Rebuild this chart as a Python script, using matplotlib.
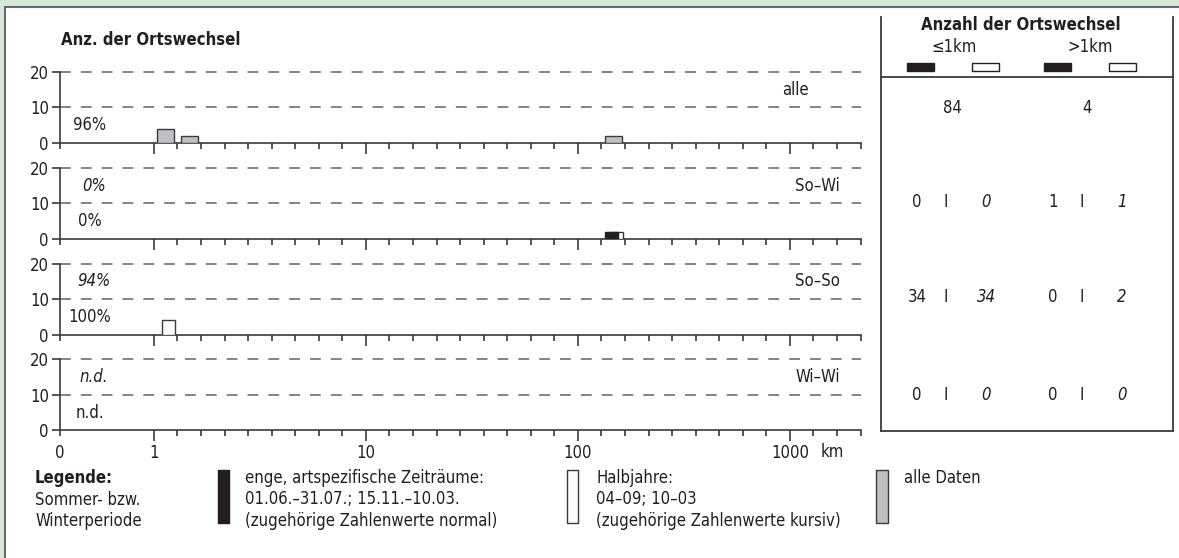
import numpy as np
import matplotlib
matplotlib.use("Agg")
import matplotlib.pyplot as plt
from matplotlib.patches import Rectangle

plt.rcParams['font.family'] = ['DejaVu Sans']
plt.rcParams['font.stretch'] = 'condensed'
plt.rcParams['font.size'] = 12

# ---- Daten ----
panel_names = ["alle", "So–Wi", "So–So", "Wi–Wi"]
pct_kursiv = [None, "0%", "94%", "n.d."]      # Halbjahre
pct_normal = ["96%", "0%", "100%", "n.d."]    # enge Zeiträume bzw. alle Daten

# Klassen über Untergrenze in km (1 -> 1-2 km, 200 -> 200-300 km)
alle_bins = [1, 2, 200]
alle_vals = [4, 2, 2]
enge_bins = [[], [200], [], []]
enge_vals = [[], [2], [], []]
halb_bins = [[], [200], [1], []]
halb_vals = [[], [2], [4], []]

# Tabelle "Anzahl der Ortswechsel"
tab_alle = [84, 4]
le1_enge = [0, 34, 0]
le1_halb = [0, 34, 0]
gt1_enge = [1, 0, 0]
gt1_halb = [1, 2, 0]

xmajor = [0, 1, 10, 100, 1000]
xmajor_labels = ["0", "1", "10", "100", "1000"]
xminor = [m * 10 ** k for k in range(3) for m in range(2, 10)] + [2000, 3000, 4000]

TXT = '#231f20'
AX = '#3a3a3a'
X0 = 0.443  # Abschnitt 0-1 km in Dekaden


def fwd(x):
    x = np.asarray(x, dtype=float)
    xs = np.maximum(x, 1.0)
    k = np.floor(np.log10(xs))
    d = 10.0 ** k
    return np.where(x < 1, (x - 1) * X0, k + (xs / d - 1) / 9)


def inv(p):
    p = np.asarray(p, dtype=float)
    ps = np.maximum(p, 0.0)
    k = np.floor(ps)
    return np.where(p < 0, 1 + p / X0, 10.0 ** k * (1 + 9 * (ps - k)))


def step(lo):
    return 10.0 ** np.floor(np.log10(np.asarray(lo, dtype=float)))


W, H = 1179, 558
fig = plt.figure(figsize=(W / 100, H / 100), dpi=100)
fig.patch.set_facecolor('#d5e8d6')

# Hintergrund / Rahmen, Tabelle, Legende in Pixelkoordinaten
bg = fig.add_axes([0, 0, 1, 1])
bg.set_xlim(0, W)
bg.set_ylim(H, 0)
bg.axis('off')
bg.add_patch(Rectangle((5, 7), 1300, 700, fc='white', ec='#6a6a6a', lw=1.5))

bg.text(61, 40, "Anz. der Ortswechsel", fontweight='bold', color=TXT, va='center')

# Panels
px0, px_dec = 60, 212
ax_w = (fwd(4000) - fwd(0)) * px_dec
for i in range(4):
    top = 72 + i * 95.8
    ax = fig.add_axes([px0 / W, 1 - (top + 71) / H, ax_w / W, 71 / H])
    ax.set_facecolor('none')
    ax.set_xscale('function', functions=(fwd, inv))
    ax.set_xlim(0, 4000)
    ax.set_ylim(0, 20)
    for s in ['top', 'right']:
        ax.spines[s].set_visible(False)
    for s in ['left', 'bottom']:
        ax.spines[s].set_color(AX)
        ax.spines[s].set_linewidth(1.2)
    for yv in (10, 20):
        ax.axhline(yv, color='#707070', lw=1.2, ls=(0, (6.5, 6)), clip_on=False)

    ax.set_yticks([0, 10, 20])
    ax.set_yticklabels(["0", "10", "20"])
    ax.set_xticks(xmajor)
    ax.set_xticks(xminor, minor=True)
    if i == 3:
        ax.set_xticklabels(xmajor_labels)
    else:
        ax.set_xticklabels([])
    ax.tick_params(axis='y', length=6, width=1.2, color=AX, pad=2, labelcolor=TXT, labelsize=12)
    ax.tick_params(axis='x', which='major', length=8, width=1.2, color=AX, pad=1.5, labelcolor=TXT, labelsize=12)
    ax.tick_params(axis='x', which='minor', length=4, width=1.2, color=AX)
    ax.xaxis.get_major_ticks()[0].tick1line.set_markersize(4)

    if i == 0:
        lo = np.array(alle_bins, dtype=float)
        d = step(lo)
        ax.bar(lo + 0.14 * d, alle_vals, width=0.72 * d, align='edge',
               color='#c0c0c4', edgecolor=AX, lw=1, zorder=3)
    else:
        if halb_bins[i]:
            lo = np.array(halb_bins[i], dtype=float)
            d = step(lo)
            ax.bar(lo + 0.33 * d, halb_vals[i], width=0.58 * d, align='edge',
                   color='white', edgecolor=AX, lw=1, zorder=3)
        if enge_bins[i]:
            lo = np.array(enge_bins[i], dtype=float)
            d = step(lo)
            ax.bar(lo + 0.13 * d, enge_vals[i], width=0.58 * d, align='edge',
                   color='#231f20', edgecolor='#231f20', lw=1, zorder=4)

    tr_mix = ax.get_yaxis_transform().__class__(ax.transAxes, ax.transData)
    fx = lambda p: (p - px0) / ax_w
    if pct_kursiv[i]:
        ax.text(fx(94), 15, pct_kursiv[i], style='italic', ha='center', va='center',
                color=TXT, transform=tr_mix)
    ax.text(fx(90), 5, pct_normal[i], ha='center', va='center', color=TXT, transform=tr_mix)
    rx = 809 if i == 0 else 840
    ax.text(fx(rx), 15, panel_names[i], ha='right', va='center', color=TXT, transform=tr_mix)

bg.text(832, 452, "km", ha='center', va='center', color=TXT)

# Tabelle
tl, tr, tt, tb = 881, 1173, 17, 431
for xx in (tl, tr):
    bg.plot([xx, xx], [tt, tb], color=AX, lw=1.3)
bg.plot([tl, tr], [tb, tb], color=AX, lw=1.3)
bg.plot([tl, tr], [77, 77], color=AX, lw=1.3)
bg.text(1021, 25, "Anzahl der Ortswechsel", fontweight='bold', ha='center', va='center', color=TXT)
bg.text(954, 47, "≤1km", ha='center', va='center', color=TXT)
bg.text(1090, 47, ">1km", ha='center', va='center', color=TXT)
for x0, fc in [(907, TXT), (972, 'white'), (1044, TXT), (1109, 'white')]:
    bg.add_patch(Rectangle((x0, 63), 27, 8, fc=fc, ec=TXT, lw=1))

bg.text(952, 108, str(tab_alle[0]), ha='center', va='center', color=TXT)
bg.text(1087, 108, str(tab_alle[1]), ha='center', va='center', color=TXT)
row_y = [202, 297, 395]
for r, yy in enumerate(row_y):
    bg.text(917, yy, str(le1_enge[r]), ha='center', va='center', color=TXT)
    bg.text(946, yy, "I", ha='center', va='center', color=TXT)
    bg.text(986, yy, str(le1_halb[r]), ha='center', va='center', color=TXT, style='italic')
    bg.text(1053, yy, str(gt1_enge[r]), ha='center', va='center', color=TXT)
    bg.text(1082, yy, "I", ha='center', va='center', color=TXT)
    bg.text(1122, yy, str(gt1_halb[r]), ha='center', va='center', color=TXT, style='italic')

# Legende
bg.text(35, 478, "Legende:", fontweight='bold', va='center', color=TXT)
bg.text(35, 500, "Sommer- bzw.", va='center', color=TXT)
bg.text(35, 521, "Winterperiode", va='center', color=TXT)
bg.add_patch(Rectangle((218, 470), 11, 53, fc=TXT, ec=TXT, lw=1))
for k, s in enumerate(["enge, artspezifische Zeiträume:", "01.06.–31.07.; 15.11.–10.03.",
                       "(zugehörige Zahlenwerte normal)"]):
    bg.text(245, 478 + k * 21.5, s, va='center', color=TXT)
bg.add_patch(Rectangle((567, 470), 11, 53, fc='white', ec=AX, lw=1))
for k, s in enumerate(["Halbjahre:", "04–09; 10–03", "(zugehörige Zahlenwerte kursiv)"]):
    bg.text(596, 478 + k * 21.5, s, va='center', color=TXT)
bg.add_patch(Rectangle((876, 470), 12, 53, fc='#c0c0c4', ec=AX, lw=1))
bg.text(904, 478, "alle Daten", va='center', color=TXT)

fig.savefig("out.png", dpi=100, facecolor=fig.get_facecolor())
